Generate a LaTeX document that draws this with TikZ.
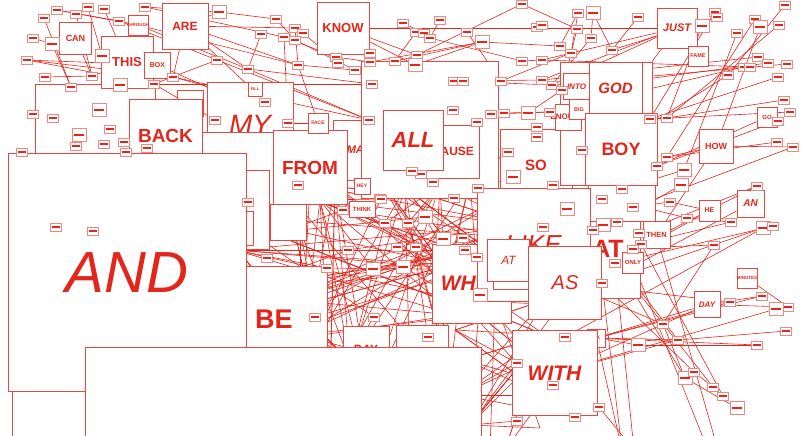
\documentclass[tikz,border=0pt]{standalone}
\usepackage{fontspec}
\setmainfont{Liberation Sans}
\usetikzlibrary{backgrounds}
\definecolor{rot}{HTML}{E3261C}
\newcommand{\wsize}[1]{\fontsize{#1}{#1}\selectfont}

\tikzset{
  wbox/.style={draw=rot!85, fill=white, line width=0.8pt, inner sep=0pt,
    text=rot, minimum size=#1},
  wort/.style={draw=rot!55, fill=white, line width=0.7pt, inner sep=0pt,
    path picture={\fill[rot] ([xshift=1.8pt,yshift=-0.9pt]path picture bounding box.west)
      rectangle ([xshift=-1.8pt,yshift=0.9pt]path picture bounding box.east);}},
  link/.style={rot, line width=0.6pt},
}

\begin{document}
\begin{tikzpicture}[x=1pt, y=-1pt]
\useasboundingbox (0,0) rectangle (807,436);
\clip (0,0) rectangle (807,436);

% oben links
\node[wbox=120] (leer1) at (95,144) {};
\node[wbox=32, font={\wsize{9}\bfseries}] (can) at (75.5,38) {CAN};
\node[wbox=52, font={\wsize{13}\bfseries}] (this) at (127,62) {THIS};
\node[wbox=20, font={\wsize{4.5}\bfseries}] (through) at (138,25) {\makebox[0pt]{THROUGH}};
\node[wbox=26, font={\wsize{7}\bfseries}] (box) at (157.5,65) {BOX};
\node[wbox=46, font={\wsize{12}\bfseries}] (are) at (185,26) {ARE};
\node[wbox=26] (leer2) at (190,103) {};
\node[wbox=73, font={\wsize{19}\bfseries}] (back) at (165.5,135.5) {BACK};
\node[wbox=86, font={\wsize{28}\itshape}] (my) at (250,125) {MY};
\node[wbox=14, font={\wsize{4}\bfseries}] (fill) at (255,89.5) {FILL};
\node[wbox=72] (leer5) at (238,168) {};
\node[wbox=79] (leer6) at (230,209.5) {};
\node[wbox=34] (leer7) at (236,228) {};

% Mitte oben
\node[wbox=52, font={\wsize{13}\bfseries}] (know) at (343,28) {KNOW};
\node[wbox=60, font={\wsize{11}\bfseries\itshape}] (make) at (363,150) {MAKE};
\node[wbox=74, font={\wsize{19}\bfseries}] (from) at (310,167.5) {FROM};
\node[wbox=20, font={\wsize{5}\bfseries}] (face) at (318,123) {FACE};
\node[wbox=36] (leer8) at (288,222) {};
\node[wbox=137] (leer4) at (430,129.5) {};
\node[wbox=53, font={\wsize{12}\bfseries}] (cause) at (453,151.5) {CAUSE};
\node[wbox=60, font={\wsize{22}\bfseries\itshape}] (all) at (413,140) {ALL};
\node[wbox=16, font={\wsize{5}\bfseries}] (hey) at (362,186) {HEY};
\node[wbox=0, minimum width=26, minimum height=16, font={\wsize{6}\bfseries}] (think) at (362,209.5) {THINK};

% rechts oben
\node[wbox=72, font={\wsize{15}\bfseries}] (so) at (536,165) {SO};
\node[wbox=0, minimum width=64, minimum height=98, font={\wsize{25}\bfseries}] (atbig) at (608,249) {AT};
\node[wbox=0, minimum width=92, minimum height=123] (leer3) at (606,123.5) {};
\node[wbox=26, font={\wsize{8}\bfseries}] (enough) at (568,117) {\makebox[0pt]{ENOUGH}};
\node[wbox=26, font={\wsize{8}\bfseries\itshape}] (into) at (576.5,86.5) {INTO};
\node[wbox=20, font={\wsize{5.5}\bfseries}] (big) at (579,109.5) {BIG};
\node[wbox=53, font={\wsize{15}\bfseries\itshape}] (god) at (615.5,88.5) {GOD};
\node[wbox=67] (leer9) at (621.5,187.5) {};
\node[wbox=72, font={\wsize{18}\bfseries}] (boy) at (621,149) {BOY};

% Mitte
\node[wbox=79, font={\wsize{21}\bfseries\itshape}] (what) at (471.5,283.5) {WHAT};
\node[wbox=113, font={\wsize{26}\itshape}] (like) at (533.5,244.5) {LIKE};
\node[wbox=44] (leer10) at (515,267) {};
\node[wbox=42, font={\wsize{12}\itshape}] (atsmall) at (508.5,260.5) {AT};
\node[wbox=73, font={\wsize{20}\itshape}] (as) at (565,282.5) {AS};

% rechts
\node[wbox=27, font={\wsize{7.5}\bfseries}] (then) at (656.5,235) {THEN};
\node[wbox=21, font={\wsize{6}\bfseries}] (only) at (633,262.5) {ONLY};
\node[wbox=21, font={\wsize{7}\bfseries}] (he) at (709.5,210.5) {HE};
\node[wbox=34, font={\wsize{9}\bfseries}] (how) at (716,146) {HOW};
\node[wbox=27, font={\wsize{10}\bfseries\itshape}] (an) at (750.5,203.5) {AN};
\node[wbox=40, font={\wsize{11}\bfseries\itshape}] (just) at (677,28) {JUST};
\node[wbox=20, font={\wsize{5.5}\bfseries}] (fame) at (698,56) {FAME};
\node[wbox=20, font={\wsize{6}\bfseries}] (go) at (767,117) {GO};
\node[wbox=26, font={\wsize{8}\bfseries\itshape}] (day) at (707,304.5) {DAY};
\node[wbox=20, font={\wsize{4.5}\bfseries}] (minutes) at (747,278) {\makebox[0pt]{MINUTES}};
\node[wbox=18, font={\wsize{5}\bfseries}] (ok) at (596.5,338) {OK};
\node[wbox=85, font={\wsize{21}\bfseries\itshape}] (with) at (554.5,373) {WITH};

% unten links
\node[wbox=106, font={\wsize{27}\bfseries}] (be) at (274,319) {BE};
\node[wbox=238, font={\wsize{58}\itshape}] (and) at (127,272.5) {AND};
\node[wbox=150] (leer11) at (87,466) {};
\node[wbox=46, font={\wsize{12}\bfseries}] (day2) at (366,349) {DAY};
\node[wbox=52] (leer12) at (422,351) {};
\node[wbox=396] (leer13) at (283,545) {};

% kleine Woerter
\foreach \x/\y/\s [count=\n] in {57/10/1, 76/14/1, 88/7/1, 104/9/1, 145/7/1, 119/21/1,
    44/18/1, 33/38/1, 52/44/2, 27/60/1, 45/77/1, 71/87/1, 102/56/2, 92/76/1, 120/85/2,
    154/84/1, 173/77/1, 217/60/1, 219/12/2, 248/69/1, 261/34/1, 265/102/1, 215/120/1,
    99/110/2, 33/114/1, 53/118/1, 110/129/1, 79/135/2, 104/144/1, 124/142/1, 22/152/1,
    76/146/1, 126/152/1, 147/148/1, 56/227/1, 93/231/1, 248/202/1, 267/258/1}
  \node[wort, minimum width={8+3*\s}, minimum height={3+5*\s}] (a\n) at (\x,\y) {};
\foreach \x/\y/\s [count=\n] in {276/19/1, 295/28/1, 303/33/1, 284/37/1, 295/40/1, 298/65/1,
    336/57/1, 338/63/1, 355/70/1, 370/53/1, 370/62/1, 395/61/1, 403/23/1, 440/20/1,
    416/32/1, 424/33/1, 430/38/1, 417/55/1, 415/65/2, 467/32/1, 482/42/2, 522/4/1,
    522/61/1, 537/27/1, 454/81/1, 463/81/1, 372/84/1, 453/110/1, 477/122/1, 491/114/1,
    501/81/1, 369/120/1, 288/123/1, 504/113/1, 528/113/2, 537/127/1, 537/137/1, 298/185/1,
    508/152/1, 513/177/2, 478/188/1, 454/198/1, 433/182/1, 421/174/1, 412/171/1, 380/198/1}
  \node[wort, minimum width={8+3*\s}, minimum height={3+5*\s}] (k\n) at (\x,\y) {};
\foreach \x/\y/\s [count=\n] in {542/25/1, 578/13/1, 593/13/2, 577/29/1, 591/38/1, 560/46/1,
    571/53/1, 612/50/1, 638/17/1, 715/12/1, 717/17/1, 755/19/1, 760/27/2, 785/5/1,
    779/25/1, 702/26/2, 737/33/1, 758/57/1, 768/63/1, 787/64/1, 744/67/1, 750/67/1,
    728/75/1, 778/77/1, 784/100/1, 790/112/1, 778/121/1, 650/119/1, 667/118/1, 777/142/1,
    793/147/1, 542/60/1, 552/85/1, 562/90/1, 550/112/1, 542/80/1, 582/150/1, 667/157/1,
    657/166/1, 684/170/2, 681/185/2, 670/202/1, 687/218/1, 731/222/1, 757/186/1, 602/199/1,
    633/207/1, 622/189/1, 567/209/2, 553/185/1, 603/225/2, 617/222/1, 593/230/1, 543/227/1,
    639/233/1, 641/244/1, 714/245/1, 763/228/2, 773/226/1, 615/263/1, 602/283/1, 633/249/1}
  \node[wort, minimum width={8+3*\s}, minimum height={3+5*\s}] (r\n) at (\x,\y) {};
\foreach \x/\y/\s [count=\n] in {762/296/1, 730/302/1, 788/307/1, 776/309/2, 786/331/1,
    757/345/1, 663/324/1, 678/340/1, 638/345/2, 565/337/1, 685/378/2, 694/372/1, 713/387/1,
    723/396/1, 737/408/2, 553/385/1, 599/407/1, 575/417/1, 517/363/1, 517/421/1, 480/295/2}
  \node[wort, minimum width={8+3*\s}, minimum height={3+5*\s}] (e\n) at (\x,\y) {};
\foreach \x/\y/\s [count=\n] in {343/210/1, 348/250/1, 327/268/1, 315/317/1, 374/317/1,
    385/223/1, 408/223/1, 425/217/2, 443/239/2, 463/238/1, 465/250/1, 477/257/1, 428/337/1,
    373/269/2, 403/267/2, 381/199/1, 397/247/1, 416/247/1}
  \node[wort, minimum width={8+3*\s}, minimum height={3+5*\s}] (m\n) at (\x,\y) {};

% Verbindungen
\begin{scope}[on background layer]
  \clip (0,0) rectangle (807,436);
  \foreach \x/\y [count=\n] in {225/215, 235/250, 240/290, 250/320, 255/345, 285/190,
      310/185, 335/185, 290/300, 300/335, 380/180, 405/188, 440/185, 470/180, 300/230, 320/200}
    \coordinate (ma\n) at (\x,\y);
  \foreach \x/\y [count=\n] in {450/265, 460/300, 480/315, 515/270, 455/315, 470/270,
      330/385, 370/395, 410/385, 450/375, 300/370, 350/362, 430/362, 520/225, 540/240, 500/200}
    \coordinate (mb\n) at (\x,\y);
  \foreach \x/\y [count=\n] in {455/330, 465/360, 460/395, 470/425, 460/300, 495/300, 505/450}
    \coordinate (na\n) at (\x,\y);
  \foreach \x/\y [count=\n] in {545/335, 535/360, 545/395, 540/428, 560/305, 545/300, 490/450}
    \coordinate (nb\n) at (\x,\y);
  \foreach \x/\y [count=\n] in {622/450, 634/450, 708/450, 718/450}
    \coordinate (f\n) at (\x,\y);

  % Geflecht Mitte
  \pgfmathsetseed{7}
  \foreach \k in {1,...,95}{
    \pgfmathrandominteger{\i}{1}{16}
    \pgfmathrandominteger{\j}{1}{16}
    \draw[link] (ma\i) -- (mb\j);
  }
  \foreach \k in {1,...,18}{
    \pgfmathrandominteger{\i}{1}{16}
    \pgfmathrandominteger{\j}{1}{16}
    \draw[link] (m\k) -- (mb\j);
    \draw[link] (m\k) -- (ma\i);
  }
  % Geflecht unten
  \foreach \k in {1,...,35}{
    \pgfmathrandominteger{\i}{1}{7}
    \pgfmathrandominteger{\j}{1}{7}
    \draw[link] (na\i) -- (nb\j);
  }
  \foreach \p/\q in {e21/nb2, e21/na4, e19/na1, e19/na3, e20/na4, e20/nb3, e18/na3, e16/na2}
    \draw[link] (\p) -- (\q);

  % oben links
  \foreach \p/\q in {a1/through, a1/a6, a2/a14, a3/a13, a4/this, a5/a19, a5/k4, a7/a12,
      a9/a12, a10/a17, a10/a16, a10/box, a11/a14, a12/a15, can/a14, a13/a15, are/a17,
      are/a20, are/k33, are/k6, a18/a16, a19/are, a21/a20, a6/a18, through/a20,
      through/k6, box/k33, a17/a22, a16/a23, a8/a9, a20/k27, a18/k32, k4/k33, a17/k32,
      a20/k32, are/k2, a19/k1, a16/k27}
    \draw[link] (\p) -- (\q);

  % oben Mitte
  \foreach \p/\q in {know/just, know/k18, know/k19, k22/k18, k21/k19, k21/k11, k20/k31,
      k13/k16, k14/k17, k15/k12, k2/k6, k3/k8, k5/k9, k1/k5, k12/k27, k17/k23, k33/face,
      k4/k7, k6/k9, k7/k11, k6/face, k21/r6, k31/r7, k34/r35, k23/r32, k26/r36, k25/r33,
      k30/r35, k35/r34, k36/r50, k37/r49, k39/r37, k40/r46, k29/r54, k28/k41, k41/k40,
      k22/r4, k11/k25, k12/k21, k9/k26}
    \draw[link] (\p) -- (\q);

  % oben rechts
  \foreach \p/\q in {r2/r6, r2/r7, r3/r5, r3/r8, r4/r34, r5/r33, r9/r8, just/r32,
      just/r33, just/r36, just/leer3, r13/how, r17/r40, r16/r29, r10/r28, r12/r38,
      r14/r23, r15/r29, r20/r33, r19/r34, r18/r36, r21/r35, r22/r32, r23/r50, r24/r28,
      r25/r29, go/r39, r27/r39, r30/r38, r31/how, how/r38, how/then, r11/r8, r26/r28}
    \draw[link] (\p) -- (\q);

  % rechts Mitte
  \foreach \p/\q in {an/r61, r58/r61, r58/e10, r59/r60, he/r42, he/r60, r44/r43,
      r44/r56, r45/r55, r57/atbig, r40/r48, r41/r52, r43/r50, r42/r47, then/r56,
      r38/r53, r39/r54, r31/r47, r45/r62, r57/e7}
    \draw[link] (\p) -- (\q);

  % unten rechts
  \foreach \p/\q in {ok/day, ok/e2, ok/e1, ok/e8, ok/e9, with/day, with/e4, with/e8,
      e7/e11, e9/e6, e12/e13, e13/e14, e8/e5, day/e1, day/e3, e3/e4, r61/f1, r60/f2,
      only/f3, then/f4, as/e7, atbig/e8, atbig/e11, r61/e12, r60/e13, r56/e14, e11/e15,
      minutes/e3, ok/f1, e17/f2, e10/e6, as/e2}
    \draw[link] (\p) -- (\q);
\end{scope}
\end{tikzpicture}
\end{document}
